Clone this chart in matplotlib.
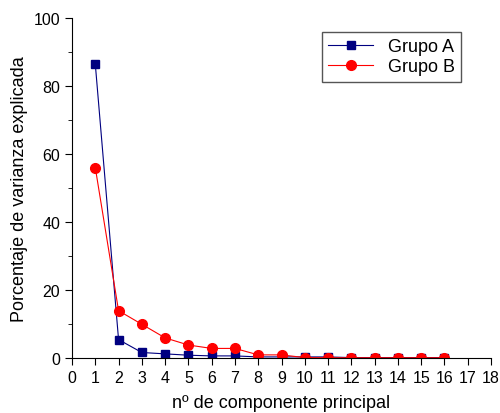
import matplotlib.pyplot as plt
from matplotlib.ticker import MultipleLocator

plt.rcParams['font.family'] = ['Liberation Sans', 'DejaVu Sans']

componentes = list(range(1, 17))
grupo_a = [86.5, 5.4, 1.6, 1.2, 0.8, 0.6, 0.6, 0.3, 0.3, 0.3, 0.3, 0.1, 0.1, 0.1, 0.1, 0.1]
grupo_b = [56.0, 13.9, 9.9, 5.9, 3.8, 2.8, 2.8, 0.9, 0.9, 0.1, 0.05, 0.05, 0.05, 0.05, 0.05, 0.05]

fig = plt.figure(figsize=(5, 4.14), dpi=100)
ax = fig.add_axes([0.144, 0.133, 0.838, 0.821])

ax.plot(componentes, grupo_a, color='#000080', lw=0.8, marker='s', ms=6,
        label='Grupo A')
ax.plot(componentes, grupo_b, color='red', lw=0.8, marker='o', ms=7,
        label='Grupo B')

ax.set_xlim(0, 18)
ax.set_ylim(0, 100)
ax.xaxis.set_major_locator(MultipleLocator(1))
ax.yaxis.set_major_locator(MultipleLocator(20))
ax.yaxis.set_minor_locator(MultipleLocator(10))
ax.spines['top'].set_visible(False)
ax.spines['right'].set_visible(False)
ax.tick_params(axis='both', which='major', labelsize=11.5, direction='out', length=5)
ax.tick_params(axis='y', which='minor', direction='out', length=3)

ax.set_xlabel('nº de componente principal', fontsize=13, labelpad=7)
ax.set_ylabel('Porcentaje de varianza explicada', fontsize=13)

leg = ax.legend(loc='upper right', bbox_to_anchor=(0.95, 0.985), fontsize=13,
                fancybox=False, edgecolor='#555555', framealpha=1,
                handlelength=2.5, borderpad=0.35, labelspacing=0.15)
leg.get_frame().set_linewidth(1.0)

plt.savefig('out.png', dpi=100)
